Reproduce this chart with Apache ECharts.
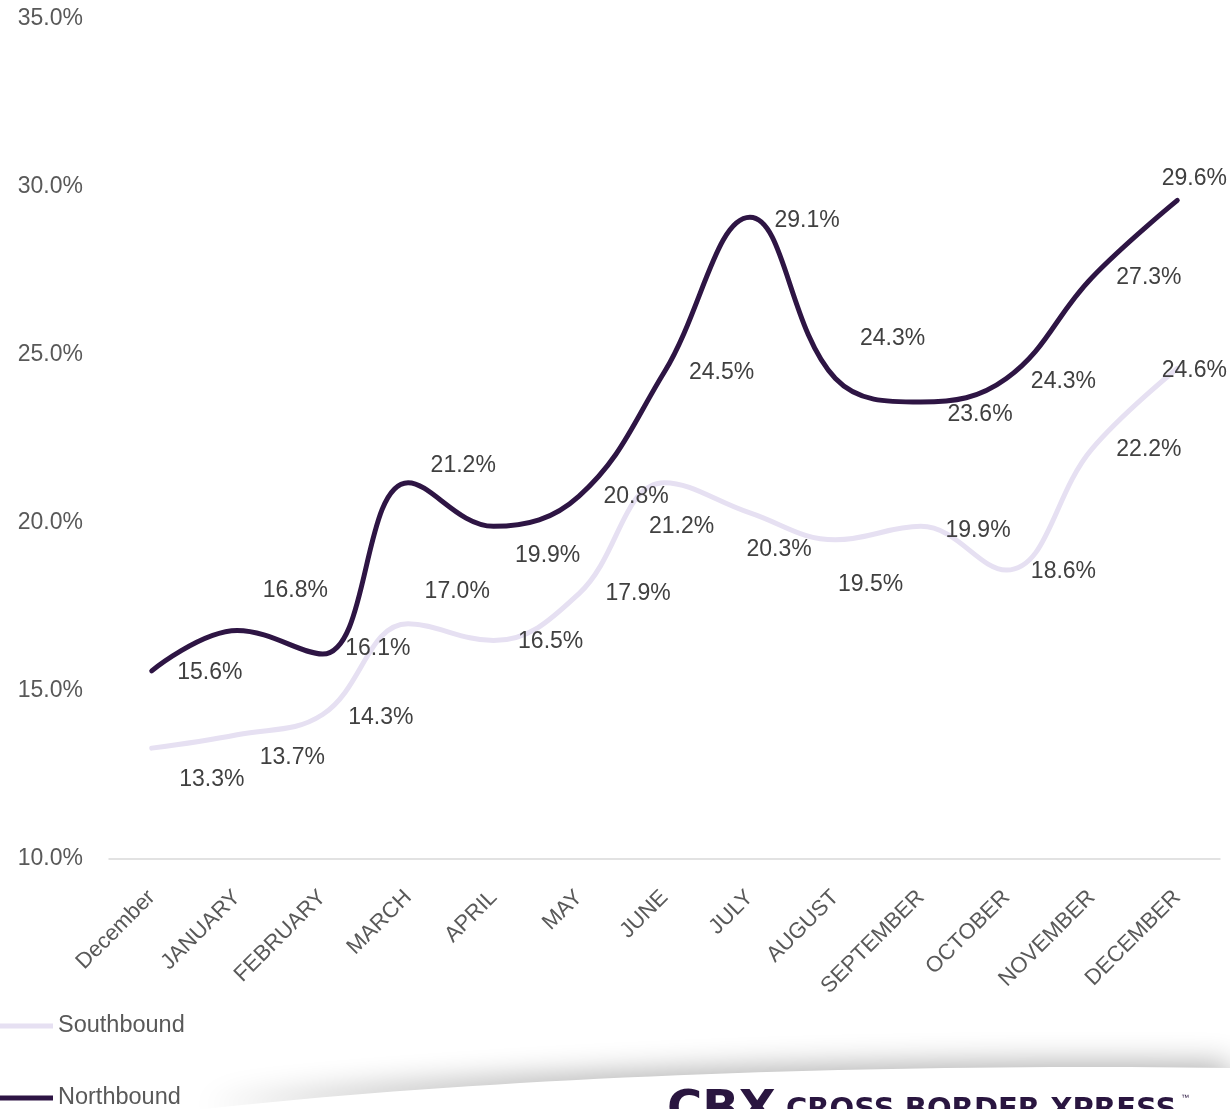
<!DOCTYPE html>
<html>
<head>
<meta charset="utf-8">
<script src="https://cdn.jsdelivr.net/npm/echarts@6/dist/echarts.min.js"></script>
<style>
  html, body { margin: 0; padding: 0; background: #fff; }
  #main { width: 1230px; height: 1109px; }
</style>
</head>
<body>
<div id="main"></div>
<script>
// 月份
let months = ['December', 'JANUARY', 'FEBRUARY', 'MARCH', 'APRIL', 'MAY', 'JUNE',
    'JULY', 'AUGUST', 'SEPTEMBER', 'OCTOBER', 'NOVEMBER', 'DECEMBER'];

// 百分比数据
let southbound = [13.3, 13.7, 14.3, 17.0, 16.5, 17.9, 21.2, 20.3, 19.5, 19.9, 18.6, 22.2, 24.6];
let northbound = [15.6, 16.8, 16.1, 21.2, 19.9, 20.8, 24.5, 29.1, 24.3, 23.6, 24.3, 27.3, 29.6];

// 标签微调 [dx, dy]
let southNudge = [[4, 32], [-1, 23], [2, 3], [-7, -32], [1, 1], [3, 0], [-39, 44],
    [-27, 37], [-21, 45], [1, 4], [1, 2], [1, 1], [-39, 2]];
let northNudge = [[2, 2], [2, -40], [-1, -5], [-1, -17], [-2, 29], [1, 1], [1, 1],
    [1, 3], [1, -40], [3, 13], [1, 3], [1, 0], [-39, -22]];

function withLabels(values, nudge) {
    return values.map((v, i) => ({
        value: v,
        label: { offset: nudge[i] }
    }));
}

// 底部弧形装饰
function swooshPoints() {
    let pts = [];
    let p0 = [205, 1109], p1 = [500, 1076], p2 = [900, 1063], p3 = [1230, 1068];
    for (let i = 0; i <= 40; i++) {
        let t = i / 40, u = 1 - t;
        pts.push([
            u * u * u * p0[0] + 3 * u * u * t * p1[0] + 3 * u * t * t * p2[0] + t * t * t * p3[0],
            u * u * u * p0[1] + 3 * u * u * t * p1[1] + 3 * u * t * t * p2[1] + t * t * t * p3[1]
        ]);
    }
    pts.push([1230, 1109]);
    return pts;
}

let labelStyle = {
    show: true,
    position: 'right',
    distance: 23,
    fontSize: 23,
    color: '#404040',
    fontFamily: 'Liberation Sans, Arial, sans-serif',
    formatter: p => p.value.toFixed(1) + '%'
};

let legendBase = {
    orient: 'vertical',
    left: 0,
    padding: 0,
    itemWidth: 53,
    itemHeight: 5,
    icon: 'rect',
    textStyle: {
        fontSize: 23.5,
        color: '#595959',
        fontFamily: 'Liberation Sans, Arial, sans-serif'
    }
};

let option = {
    backgroundColor: '#fff',
    animation: false,
    grid: {
        left: 109,
        right: 10,
        top: 19,
        bottom: 250,
        containLabel: false
    },
    legend: [
        Object.assign({}, legendBase, { top: 1014, data: ['Southbound'] }),
        Object.assign({}, legendBase, { top: 1086, data: ['Northbound'] })
    ],
    xAxis: {
        type: 'category',
        data: months,
        boundaryGap: true,
        axisLine: { lineStyle: { color: '#d9d9d9', width: 1.5 } },
        axisTick: { show: false },
        axisLabel: {
            rotate: 45,
            interval: 0,
            margin: 35,
            fontSize: 22,
            color: '#595959',
            fontFamily: 'Liberation Sans, Arial, sans-serif'
        }
    },
    yAxis: {
        type: 'value',
        min: 10,
        max: 35,
        interval: 5,
        splitLine: { show: false },
        axisLine: { show: false },
        axisTick: { show: false },
        axisLabel: {
            margin: 26,
            fontSize: 23,
            color: '#595959',
            fontFamily: 'Liberation Sans, Arial, sans-serif',
            formatter: v => v.toFixed(1) + '%'
        }
    },
    graphic: [
        {
            type: 'polygon',
            z: 0,
            shape: { points: swooshPoints() },
            style: {
                fill: '#fff',
                shadowBlur: 30,
                shadowColor: 'rgba(0,0,0,0.32)',
                shadowOffsetY: -4
            }
        },
        {
            type: 'text',
            left: 667,
            top: 1088,
            z: 10,
            style: {
                text: 'CBX',
                fontSize: 48,
                fontWeight: 'bold',
                fill: '#2a1640',
                fontFamily: 'DejaVu Sans, sans-serif'
            }
        },
        {
            type: 'text',
            left: 786,
            top: 1096,
            z: 10,
            style: {
                text: 'CROSS BORDER XPRESS',
                fontSize: 29,
                fontWeight: 'bold',
                fill: '#2a1640',
                fontFamily: 'DejaVu Sans, sans-serif'
            }
        },
        {
            type: 'text',
            left: 1181,
            top: 1094,
            z: 10,
            style: { text: '™', fontSize: 8, fill: '#2a1640' }
        }
    ],
    series: [
        {
            name: 'Southbound',
            type: 'line',
            smooth: 0.4,
            symbol: 'circle',
            symbolSize: 1,
            lineStyle: { color: '#e6e0f2', width: 5, cap: 'round' },
            itemStyle: { color: '#e6e0f2' },
            label: labelStyle,
            data: withLabels(southbound, southNudge),
            z: 2
        },
        {
            name: 'Northbound',
            type: 'line',
            smooth: 0.4,
            symbol: 'circle',
            symbolSize: 1,
            lineStyle: { color: '#2e1544', width: 5, cap: 'round' },
            itemStyle: { color: '#2e1544' },
            label: labelStyle,
            data: withLabels(northbound, northNudge),
            z: 3
        }
    ]
};

var dom = document.getElementById('main');
var myChart = echarts.init(dom, null, { renderer: 'canvas' });
myChart.setOption(option, true);
</script>
</body>
</html>
